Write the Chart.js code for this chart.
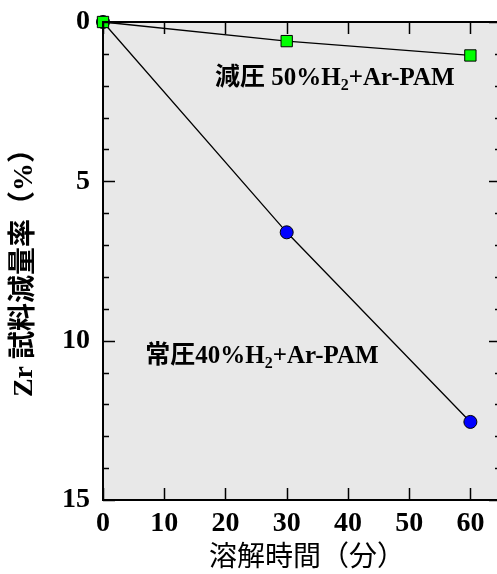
<!DOCTYPE html>
<html>
<head>
<meta charset="utf-8">
<script src="https://cdn.jsdelivr.net/npm/chart.js@4"></script>
<style>
  html, body { margin: 0; padding: 0; background: #fff; overflow: hidden; }
  #wrap { width: 510px; height: 574px; }
</style>
</head>
<body>
<div id="wrap"><canvas id="c"></canvas></div>
<script>
// time (min)
const times = [0, 30, 60];
// weight loss (%)
const lossReduced = [0, 0.6, 1.05];   // 減圧 50%H2+Ar-PAM
const lossNormal  = [0, 6.6, 12.55];  // 常圧40%H2+Ar-PAM

const xTicks = [0, 10, 20, 30, 40, 50, 60];
const yMajor = [0, 5, 10, 15];

// annotation labels: [prefix, sub, suffix, x, y] in data units
const labels = [
  ["減圧 50%H", "2", "+Ar-PAM", 18.3, 1.98],
  ["常圧40%H", "2", "+Ar-PAM", 6.9, 10.7],
];

const SERIF = '"Liberation Serif", "Times New Roman", "Noto Sans CJK JP", serif';

const frame = {
  id: "frame",
  beforeDatasetsDraw(chart) {
    const { ctx, chartArea: a } = chart;
    ctx.save();
    ctx.fillStyle = "#e8e8e8";
    ctx.fillRect(a.left, a.top, a.right - a.left, a.bottom - a.top);
    ctx.restore();
  },
  afterDraw(chart) {
    const { ctx, chartArea: a, scales } = chart;
    const xs = scales.x, ys = scales.y;
    ctx.save();
    ctx.strokeStyle = "#000";
    ctx.lineWidth = 2;
    ctx.strokeRect(a.left, a.top, a.right - a.left, a.bottom - a.top);
    ctx.lineWidth = 1.5;
    ctx.beginPath();
    xs.ticks.forEach(t => {
      const px = Math.round(xs.getPixelForValue(t.value)) + 0.5;
      ctx.moveTo(px, a.bottom); ctx.lineTo(px, a.bottom - 12);
      ctx.moveTo(px, a.top); ctx.lineTo(px, a.top + 12);
    });
    ys.ticks.forEach(t => {
      const py = Math.round(ys.getPixelForValue(t.value)) + 0.5;
      const len = yMajor.includes(t.value) ? 12 : 6;
      ctx.moveTo(a.left, py); ctx.lineTo(a.left + len, py);
      ctx.moveTo(a.right, py); ctx.lineTo(a.right - len, py);
    });
    ctx.stroke();

    // annotation labels
    ctx.fillStyle = "#000";
    ctx.textBaseline = "alphabetic";
    ctx.textAlign = "left";
    labels.forEach(([pre, sub, post, lx, ly]) => {
      let x = xs.getPixelForValue(lx);
      const y = ys.getPixelForValue(ly);
      ctx.font = "bold 25px " + SERIF;
      ctx.fillText(pre, x, y);
      x += ctx.measureText(pre).width;
      ctx.font = "bold 16px " + SERIF;
      ctx.fillText(sub, x, y + 5);
      x += ctx.measureText(sub).width;
      ctx.font = "bold 25px " + SERIF;
      ctx.fillText(post, x, y);
    });

    // axis titles
    ctx.textAlign = "center";
    ctx.textBaseline = "middle";
    ctx.font = "28px " + SERIF;
    ctx.fillText("溶解時間（分）", 307, 559);

    ctx.save();
    ctx.translate(25, 266);
    ctx.rotate(-Math.PI / 2);
    ctx.font = "bold 28px " + SERIF;
    ctx.fillText("Zr 試料減量率（%）", 0, 0);
    ctx.restore();
    ctx.restore();
  }
};

const mkData = ys => times.map((t, i) => ({ x: t, y: ys[i] }));

new Chart(document.getElementById("c"), {
  type: "scatter",
  data: {
    datasets: [
      {
        label: "減圧 50%H2+Ar-PAM",
        data: mkData(lossReduced),
        showLine: true,
        borderColor: "#000",
        borderWidth: 1.3,
        pointStyle: "rect",
        pointRadius: 8,
        pointBackgroundColor: "#00ff00",
        pointBorderColor: "#000",
        pointBorderWidth: 1,
        clip: false,
      },
      {
        label: "常圧40%H2+Ar-PAM",
        data: mkData(lossNormal),
        showLine: true,
        borderColor: "#000",
        borderWidth: 1.3,
        pointStyle: "circle",
        pointRadius: 6.5,
        pointBackgroundColor: "#0000ff",
        pointBorderColor: "#000",
        pointBorderWidth: 1,
        clip: false,
      },
    ]
  },
  options: {
    responsive: true,
    maintainAspectRatio: false,
    animation: false,
    layout: { padding: { top: 22, right: 9, left: 0, bottom: 0 } },
    plugins: { legend: { display: false }, tooltip: { enabled: false } },
    scales: {
      x: {
        type: "linear",
        min: 0, max: 65,
        grid: { display: false, drawTicks: false },
        border: { display: false },
        afterBuildTicks: s => { s.ticks = xTicks.map(v => ({ value: v })); },
        afterFit: s => { s.height = 74; s.paddingLeft = 0; s.paddingRight = 0; },
        ticks: {
          padding: 7,
          autoSkip: false,
          color: "#000",
          font: { family: SERIF, size: 28, weight: "bold" },
          maxRotation: 0,
          callback: v => String(v),
        }
      },
      y: {
        type: "linear",
        reverse: true,
        min: 0, max: 15,
        grid: { display: false, drawTicks: false },
        border: { display: false },
        afterFit: s => { s.width = 103; s.paddingTop = 0; s.paddingBottom = 0; },
        ticks: {
          stepSize: 1,
          autoSkip: false,
          padding: 13,
          color: "#000",
          font: { family: SERIF, size: 28, weight: "bold" },
          callback: v => (yMajor.includes(v) ? String(v) : ""),
        }
      }
    }
  },
  plugins: [frame]
});
</script>
</body>
</html>
